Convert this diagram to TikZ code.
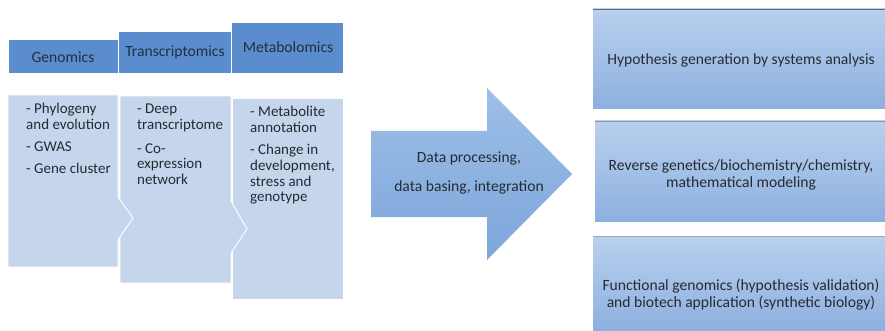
\documentclass[tikz,border=0pt]{standalone}
\usepackage{fontspec}
\setmainfont{Carlito}
\definecolor{hdr}{HTML}{5A8CCE}
\definecolor{bodyc}{HTML}{C5D6EC}
\definecolor{txt}{HTML}{262B33}
\definecolor{hdrtxt}{HTML}{22303F}
\definecolor{arrtop}{HTML}{9DBFE8}
\definecolor{arrbot}{HTML}{7DA6DA}
\definecolor{boxtop}{HTML}{B9D0EE}
\definecolor{boxbot}{HTML}{8DB0DF}
\definecolor{edge}{HTML}{5E6B7C}
\begin{document}
\begin{tikzpicture}[x=1pt,y=-1pt,
  hdrbox/.style={fill=hdr,draw=white,line width=0.8pt},
  bodybox/.style={fill=bodyc,draw=white,line width=0.9pt},
  hdrlabel/.style={font=\fontsize{15.6}{17}\selectfont,text=hdrtxt,inner sep=0pt},
  listtext/.style={font=\fontsize{15}{15.6}\selectfont,text=txt,align=left,anchor=north west,inner sep=0pt},
  rbox/.style={top color=boxtop,bottom color=boxbot,draw=none},
  rtext/.style={font=\fontsize{15.6}{17}\selectfont,text=txt,align=center,inner sep=0pt}
]
\useasboundingbox (0,0) rectangle (885,331);
\fill[white] (0,0) rectangle (885,331);

% headers
\draw[hdrbox] (8,39) rectangle (118,73);
\draw[hdrbox] (118,31) rectangle (231,73);
\draw[hdrbox] (231,22) rectangle (343,73);
\node[hdrlabel] (hg) at (63,57) {Genomics};
\node[hdrlabel] (ht) at (175,52) {Transcriptomics};
\node[hdrlabel] (hm) at (288,47) {Metabolomics};

% bodies
\draw[bodybox] (232,98) -- (343,98) -- (343,299) -- (232,299) -- cycle;
\draw[bodybox] (120,96) -- (231,96) -- (231,201) -- (247,229) -- (231,253) -- (231,283) -- (120,283) -- cycle;
\draw[bodybox] (8,95) -- (118,95) -- (118,197) -- (133,218) -- (118,240) -- (118,267) -- (8,267) -- cycle;

\node[listtext] (lg) at (26,103) {- Phylogeny\\and evolution\\[7pt]- GWAS\\[6pt]- Gene cluster};
\node[listtext] (lt) at (137,104) {- Deep\\transcriptome\\[8pt]- Co-\\expression\\network};
\node[listtext] (lm) at (250,106) {- Metabolite\\annotation\\[7pt]- Change in\\development,\\stress and\\genotype};

% big arrow
\shade[top color=arrtop,bottom color=arrbot] (371,131) -- (487,131) -- (487,88) -- (572,174) -- (487,260) -- (487,217) -- (371,217) -- cycle;
\node[rtext,align=center] (arr) at (469,173) {Data processing,\\[12pt]data basing, integration};

% right boxes
\shade[rbox] (593,9) rectangle (885,109);
\draw[edge,line width=0.8pt] (593,9) -- (885,9);
\shade[rbox] (595,121) rectangle (885,221);
\draw[edge!70,line width=0.6pt] (595,121) -- (885,121);
\shade[rbox] (593,236) rectangle (885,331);
\draw[edge!60,line width=0.6pt] (593,236) -- (885,236);

\node[rtext] (r1) at (741,60) {Hypothesis generation by systems analysis};
\node[rtext] (r2) at (741,174.5) {Reverse genetics/biochemistry/chemistry,\\mathematical modeling};
\node[rtext] (r3) at (741,294.5) {Functional genomics (hypothesis validation)\\and biotech application (synthetic biology)};
\end{tikzpicture}
\end{document}
